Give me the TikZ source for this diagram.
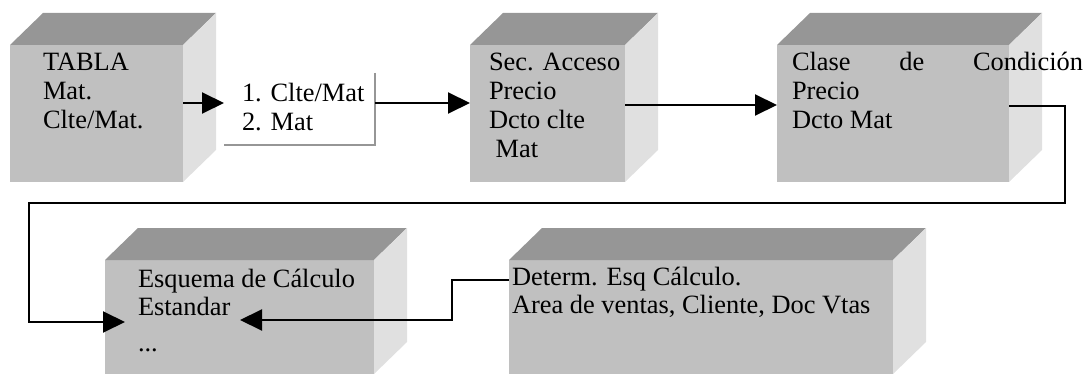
\documentclass[tikz,border=0pt]{standalone}
\usepackage{fontspec}
\setmainfont{Liberation Serif}
\usetikzlibrary{arrows.meta,calc}
\definecolor{frontgray}{RGB}{192,192,192}
\definecolor{topgray}{RGB}{150,150,150}
\definecolor{sidegray}{RGB}{224,224,224}
\definecolor{shadowgray}{RGB}{150,150,150}
\newcommand\cubefaces[1]{%
  \fill[topgray] (#1.north west) -- ++(33,-32) -- ($(#1.north east)+(33,-32)$) -- (#1.north east) -- cycle;
  \fill[sidegray] (#1.north east) -- ++(33,-32) -- ($(#1.south east)+(33,-32)$) -- (#1.south east) -- cycle;}
\begin{document}
\begin{tikzpicture}[x=0.5pt,y=-0.5pt,
  face/.style={fill=frontgray, draw=none, inner sep=0pt, outer sep=0pt, anchor=north west},
  plainbox/.style={fill=white, draw=none, inner sep=0pt, outer sep=0pt, anchor=north west},
  txt/.style={inner sep=0pt, outer sep=0pt, anchor=base west, font=\fontsize{13.2}{14.35}\selectfont},
  conn/.style={line width=1pt},
  arr/.style={conn, -{Triangle[length=11pt,width=10.5pt]}},
]
\useasboundingbox (0,0) rectangle (1092,374);

% boxes
\node[face, minimum width=86.5pt, minimum height=68.5pt] (b1) at (10,45) {};
\cubefaces{b1}
\node[plainbox, minimum width=75.5pt, minimum height=36pt] (b2) at (224,73) {};
\draw[shadowgray, line width=1pt] (b2.north east) -- (b2.south east) -- (b2.south west);
\node[face, minimum width=77.5pt, minimum height=68.5pt] (b3) at (470,45) {};
\cubefaces{b3}
\node[face, minimum width=116pt, minimum height=68.5pt] (b4) at (777,45) {};
\cubefaces{b4}
\node[face, minimum width=134.5pt, minimum height=57pt] (b5) at (105,260) {};
\cubefaces{b5}
\node[face, minimum width=192pt, minimum height=57pt] (b6) at (509,260) {};
\cubefaces{b6}

% routing coordinates
\coordinate (r1) at (0,103);
\coordinate (r2) at (0,105);
\coordinate (r3) at (0,106);
\coordinate (k1) at (1065,203);
\coordinate (k2) at (29,322);
\coordinate (in5) at ($(b5.north west)+(20,62)$);
\coordinate (r5) at (0,280);
\coordinate (k3) at (452,320);
\coordinate (in5b) at ($(b5.north west)+(135,60)$);

% connectors
\draw[arr] (b1.east |- r1) -- (b2.west |- r1);
\draw[arr] (b2.east |- r1) -- (b3.west |- r1);
\draw[arr] (b3.east |- r2) -- (b4.west |- r2);
\draw[arr] (b4.east |- r3) -| (k1) -| (k2) -- (in5);
\draw[arr] (b6.west |- r5) -| (k3) -- (in5b);

% texts
\node[txt] (t1) at (43,71) {\vtop{\hbox{TABLA}\hbox{Mat.}\hbox{Clte/Mat.}}};
\node[txt] (t2) at (242,102) {\vtop{\hbox{1. Clte/Mat}\hbox{2. Mat}}};
\node[txt] (t3) at (489,71) {\vtop{\hbox{Sec. Acceso}\hbox{Precio}\hbox{Dcto clte}\hbox{\ Mat}}};
\node[txt] (t4) at (792,71) {\vtop{\hbox to 145.5pt{Clase\hfill de\hfill Condición}\hbox{Precio}\hbox{Dcto Mat}}};
\node[txt] (t5) at (138,287) {\vtop{\hbox{Esquema de Cálculo}\hbox{Estandar}\vskip3.5pt\hbox{...}}};
\node[txt] (t6) at (512,285) {\vtop{\hbox{Determ. Esq Cálculo.}\hbox{Area de ventas, Cliente, Doc Vtas}}};
\end{tikzpicture}
\end{document}
